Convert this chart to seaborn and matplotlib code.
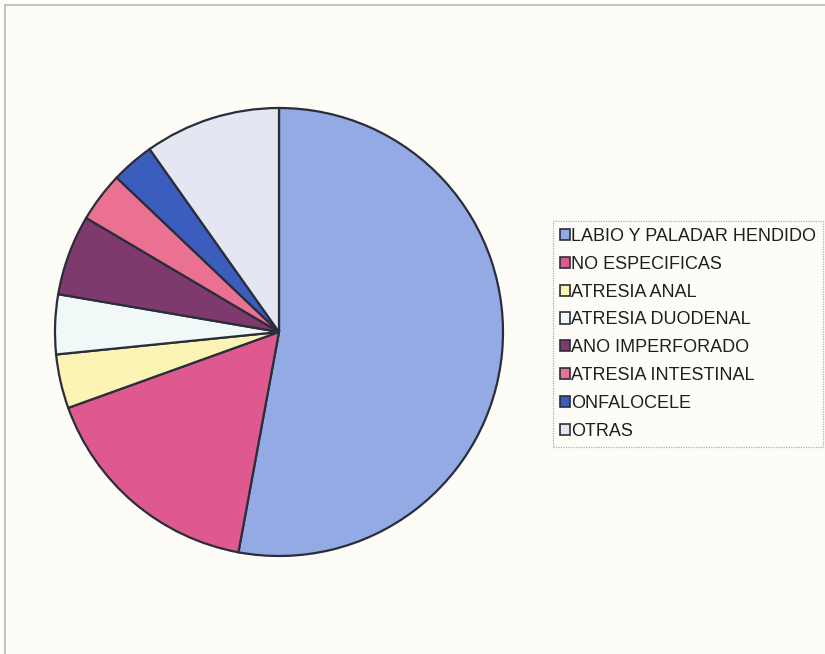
import matplotlib
matplotlib.use("Agg")
import matplotlib.pyplot as plt
from matplotlib.patches import Patch
from matplotlib.lines import Line2D
import seaborn as sns

# Malformaciones congénitas: porcentaje de casos por tipo
categorias = [
    "LABIO Y PALADAR HENDIDO",
    "NO ESPECIFICAS",
    "ATRESIA ANAL",
    "ATRESIA DUODENAL",
    "ANO IMPERFORADO",
    "ATRESIA INTESTINAL",
    "ONFALOCELE",
    "OTRAS",
]
porcentajes = [52.9, 16.6, 3.9, 4.3, 5.8, 3.6, 3.1, 9.8]
colores = [
    "#93AAE4",  # azul claro
    "#DE5A8E",  # rosa
    "#FBF4B4",  # amarillo claro
    "#F1F8F8",  # casi blanco
    "#7E3A6C",  # morado
    "#EA7192",  # rosa salmón
    "#3A5DBE",  # azul
    "#E4E6F2",  # lavanda claro
]

sns.set_theme(style="white")
plt.rcParams["font.family"] = ["Liberation Sans", "DejaVu Sans"]

fondo = "#FDFCF6"
W, H = 825, 654
fig = plt.figure(figsize=(W / 100, H / 100), dpi=100, facecolor=fondo)

# Pie: centred at (279, 332) px, radius 224 px
cx, cy, r = 279, 332, 224
ax = fig.add_axes([(cx - r) / W, (H - cy - r) / H, 2 * r / W, 2 * r / H])
ax.set_facecolor("none")
paleta = sns.color_palette(colores)
ax.pie(
    porcentajes,
    colors=paleta,
    startangle=90,
    counterclock=False,
    radius=1.0,
    wedgeprops=dict(edgecolor="#2A2D3A", linewidth=1.6),
)
ax.set_xlim(-1, 1)
ax.set_ylim(-1, 1)
ax.set_aspect("equal")
ax.axis("off")

# Legend
handles = [
    Patch(facecolor=c, edgecolor="#2A2D3A", linewidth=1.2) for c in paleta
]
leg = fig.legend(
    handles,
    categorias,
    loc="upper left",
    bbox_to_anchor=(553 / W, 1 - 221 / H),
    frameon=True,
    fancybox=False,
    fontsize=13,
    handlelength=0.58,
    handleheight=0.58,
    handletextpad=0.05,
    labelspacing=0.6,
    borderpad=0.38,
    borderaxespad=0.0,
)
frame = leg.get_frame()
frame.set_facecolor(fondo)
frame.set_edgecolor("#9A9A9A")
frame.set_linestyle((0, (1, 1)))
frame.set_linewidth(0.9)
for t in leg.get_texts():
    t.set_color("#1E1E1E")

# Thin outline along the top and left edges of the sheet
fig.add_artist(Line2D([5 / W, 1], [1 - 5 / H, 1 - 5 / H], color="#B8B8B8", lw=1.2))
fig.add_artist(Line2D([5 / W, 5 / W], [0, 1 - 5 / H], color="#B8B8B8", lw=1.2))

fig.savefig("out.png", dpi=100, facecolor=fondo)
